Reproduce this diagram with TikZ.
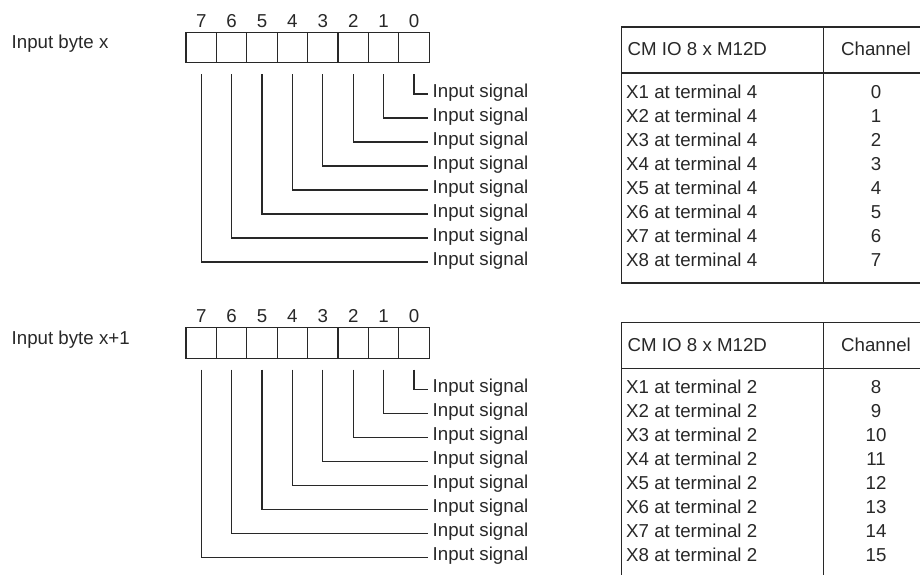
\documentclass[tikz,border=0pt]{standalone}
\usepackage{fontspec}
\setmainfont{Liberation Sans}
\usetikzlibrary{positioning, calc}
\definecolor{wiregray}{RGB}{40,40,40}

\begin{document}
\begin{tikzpicture}[
  x=1pt, y=-1pt,
  lbl/.style={font=\fontsize{18.7}{22}\selectfont, text=wiregray, inner sep=0pt},
  bitcell/.style={rectangle, draw=wiregray, line width=1.2pt, minimum width=30.4pt,
                  minimum height=30.4pt, inner sep=0pt, outer sep=0pt},
  signal/.style={lbl, anchor=west, inner xsep=4.5pt, text height=10pt, text depth=3.5pt},
  wire/.style={draw=wiregray, line width=1.1pt},
  grid/.style={draw=wiregray, line width=1.3pt}
]
\useasboundingbox (0,0) rectangle (920,575);

\foreach \s/\yo/\byte/\term/\chn in {0/0/x/4/0, 1/295.5/x+1/2/8} {
  % Byte label
  \node[lbl, anchor=base west] (byte\s) at (11.5,49+\yo) {Input byte \byte};

  % Register, bit 0 on the right
  \foreach \b in {0,...,7} {
    \node[bitcell] (c\s-\b) at ({414-30.4*\b},47.5+\yo) {};
    \node[lbl, anchor=base] (n\s-\b) at ([yshift=5pt]c\s-\b.north) {\b};
    \node[signal] (sig\s-\b) at (428,94+24*\b+\yo) {Input signal};
    \draw[wire] ([yshift=-11.5pt]c\s-\b.south) |- (sig\s-\b.west);
  }

  % Assignment table
  \draw[grid] (935,27+\yo) -| (621.5,283+\yo) -- (935,283+\yo);
  \draw[grid] (621.5,73+\yo) -- (935,73+\yo);
  \draw[grid] (823.5,27+\yo) -- (823.5,283+\yo);
  \node[lbl, anchor=base west] (hd\s) at (627.5,56+\yo) {CM IO 8 x M12D};
  \node[lbl, anchor=base] (chhd\s) at (876,56+\yo) {Channel};
  \foreach \r in {0,...,7} {
    \pgfmathtruncatemacro\xn{\r+1}
    \pgfmathtruncatemacro\ch{\chn+\r}
    \node[lbl, anchor=base west] (term\s-\r) at (626,98.3+24*\r+\yo) {X\xn{} at terminal \term};
    \node[lbl, anchor=base] (ch\s-\r) at (876,98.3+24*\r+\yo) {\ch};
  }
}
\end{tikzpicture}
\end{document}
